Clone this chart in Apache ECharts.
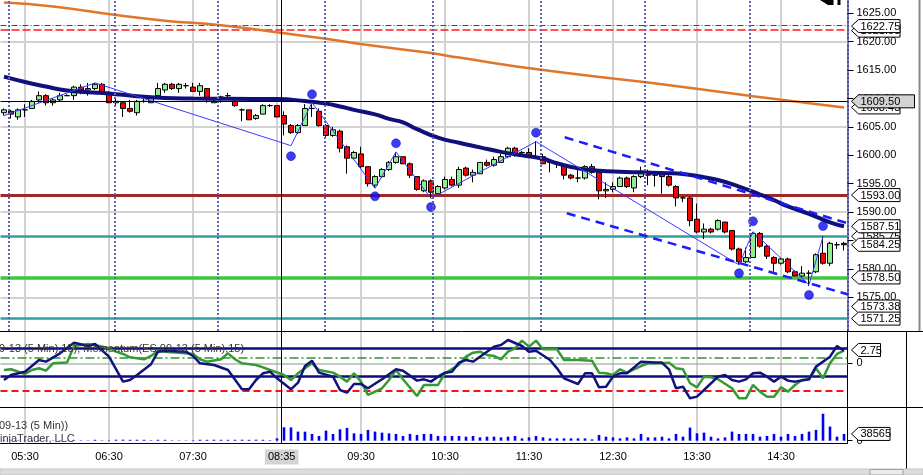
<!DOCTYPE html>
<html>
<head>
<meta charset="utf-8">
<script src="https://cdn.jsdelivr.net/npm/echarts@6/dist/echarts.min.js"></script>
<style>
html, body { margin: 0; padding: 0; background: #fff; }
#chart { width: 923px; height: 475px; }
</style>
</head>
<body>
<div id="chart"></div>
<script>
// 5 minute bars, 05:15 .. 15:15
var firstBar = 5 * 60 + 15;
var barCount = 121;
var times = [];
for (var t = 0; t < barCount; t++) {
    var m = firstBar + t * 5;
    times.push(('0' + Math.floor(m / 60)).slice(-2) + ':' + ('0' + (m % 60)).slice(-2));
}

// [open, close, low, high]
var candles = [
    [1607.5, 1608.0, 1607.0, 1608.25], [1607.75, 1607.25, 1606.5, 1608.0], [1606.75, 1608.0, 1606.25, 1608.25],
    [1608.0, 1608.0, 1606.75, 1609.0], [1608.25, 1609.5, 1608.25, 1609.75], [1609.75, 1610.5, 1609.25, 1611.25],
    [1610.5, 1609.25, 1608.75, 1610.75], [1609.25, 1609.75, 1608.75, 1610.0], [1609.75, 1610.5, 1609.5, 1611.0],
    [1610.5, 1610.5, 1610.5, 1610.75], [1610.5, 1612.0, 1609.75, 1612.25], [1612.0, 1611.5, 1610.75, 1612.5],
    [1611.5, 1611.75, 1610.5, 1612.75], [1611.75, 1612.5, 1611.5, 1612.75], [1612.5, 1611.0, 1610.75, 1612.75],
    [1610.75, 1609.25, 1609.25, 1611.25], [1609.25, 1609.5, 1608.5, 1610.0], [1609.25, 1608.25, 1606.75, 1609.5],
    [1608.25, 1607.75, 1607.5, 1609.75], [1607.5, 1609.5, 1607.0, 1609.75], [1609.5, 1609.5, 1609.25, 1610.5],
    [1609.25, 1610.0, 1609.25, 1610.5], [1610.5, 1611.75, 1610.25, 1612.75], [1611.5, 1612.5, 1611.0, 1612.75],
    [1612.5, 1611.75, 1611.5, 1612.75], [1611.75, 1612.5, 1611.0, 1612.75], [1612.25, 1612.25, 1611.75, 1612.75],
    [1612.0, 1611.25, 1611.25, 1612.75], [1611.25, 1612.25, 1610.5, 1612.75], [1611.75, 1610.0, 1609.25, 1611.75],
    [1609.25, 1609.5, 1609.25, 1610.25], [1610.25, 1610.25, 1609.25, 1610.5], [1610.5, 1610.5, 1609.75, 1611.0],
    [1609.5, 1608.75, 1608.5, 1610.0], [1608.0, 1608.0, 1606.0, 1608.25], [1608.0, 1606.25, 1606.25, 1608.0],
    [1606.5, 1607.0, 1606.25, 1607.25], [1607.25, 1608.75, 1607.25, 1609.0], [1608.75, 1608.75, 1608.5, 1609.0],
    [1608.75, 1606.75, 1606.75, 1608.75], [1607.0, 1605.5, 1603.5, 1607.75], [1605.25, 1604.0, 1603.75, 1605.5],
    [1604.0, 1605.25, 1603.75, 1605.5], [1605.25, 1608.25, 1605.25, 1609.0], [1608.25, 1608.25, 1606.75, 1609.25],
    [1607.75, 1605.25, 1605.0, 1608.25], [1605.25, 1603.5, 1603.25, 1605.5], [1603.5, 1604.5, 1603.25, 1605.0],
    [1604.25, 1601.25, 1600.5, 1604.5], [1601.5, 1599.5, 1596.75, 1601.75], [1599.5, 1600.5, 1599.25, 1600.75],
    [1600.25, 1598.0, 1597.75, 1601.5], [1598.0, 1595.0, 1594.5, 1598.0], [1594.75, 1596.25, 1594.25, 1596.5],
    [1596.25, 1597.5, 1596.0, 1597.75], [1597.5, 1598.75, 1597.25, 1599.0], [1598.75, 1599.75, 1598.5, 1600.5],
    [1599.75, 1598.5, 1598.5, 1599.75], [1598.5, 1596.5, 1596.0, 1598.75], [1596.25, 1594.0, 1593.75, 1596.25],
    [1593.75, 1595.5, 1593.5, 1595.75], [1595.5, 1593.5, 1592.5, 1595.75], [1593.25, 1594.5, 1593.25, 1594.75],
    [1594.25, 1595.75, 1594.0, 1596.25], [1595.75, 1594.75, 1594.5, 1596.25], [1594.75, 1597.5, 1594.25, 1598.0],
    [1597.75, 1596.5, 1596.25, 1598.0], [1596.5, 1597.0, 1595.25, 1597.5], [1596.75, 1598.75, 1596.75, 1598.75],
    [1598.75, 1598.25, 1598.0, 1599.25], [1598.25, 1599.25, 1598.0, 1599.75], [1598.75, 1599.75, 1598.75, 1600.25],
    [1599.75, 1601.25, 1599.5, 1601.5], [1601.25, 1600.0, 1599.75, 1601.5], [1600.5, 1600.5, 1600.25, 1600.75],
    [1600.5, 1599.75, 1599.5, 1601.25], [1599.75, 1599.75, 1599.5, 1602.5], [1599.75, 1598.5, 1598.5, 1600.25],
    [1598.75, 1598.75, 1597.0, 1598.75], [1598.5, 1598.5, 1597.75, 1598.75], [1598.25, 1596.5, 1595.75, 1598.25],
    [1596.5, 1596.0, 1595.75, 1596.75], [1596.0, 1596.0, 1595.25, 1597.75], [1596.0, 1598.0, 1595.75, 1598.25],
    [1598.0, 1597.0, 1596.75, 1598.5], [1597.0, 1593.75, 1592.25, 1597.0], [1593.75, 1594.0, 1592.5, 1595.25],
    [1594.0, 1594.5, 1593.5, 1595.25], [1594.5, 1596.0, 1594.5, 1596.25], [1596.0, 1594.5, 1594.25, 1596.25],
    [1594.25, 1596.25, 1593.5, 1596.5], [1596.25, 1597.0, 1596.0, 1598.0], [1597.0, 1596.5, 1594.75, 1597.5],
    [1596.5, 1596.5, 1594.5, 1596.75], [1596.75, 1596.25, 1593.25, 1597.0], [1596.25, 1594.75, 1594.5, 1596.5],
    [1594.5, 1592.5, 1591.0, 1594.75], [1592.5, 1592.5, 1591.75, 1592.75], [1592.5, 1588.5, 1587.5, 1592.75],
    [1588.75, 1586.5, 1586.25, 1591.5], [1586.5, 1587.0, 1585.25, 1588.0], [1587.0, 1586.5, 1586.25, 1587.25],
    [1587.0, 1588.5, 1586.75, 1588.75], [1588.25, 1586.5, 1586.25, 1588.25], [1586.75, 1583.5, 1583.25, 1586.75],
    [1583.5, 1581.25, 1580.75, 1583.75], [1581.25, 1582.0, 1581.0, 1583.75], [1582.0, 1586.25, 1582.0, 1586.5],
    [1586.25, 1584.0, 1583.75, 1586.5], [1584.0, 1582.25, 1581.75, 1584.25], [1582.0, 1581.0, 1579.5, 1582.25],
    [1581.0, 1581.75, 1580.75, 1582.0], [1581.75, 1579.5, 1579.25, 1582.0], [1579.5, 1578.75, 1578.75, 1579.75],
    [1578.75, 1579.25, 1578.5, 1580.5], [1579.25, 1579.25, 1577.0, 1579.75], [1579.5, 1582.5, 1579.25, 1582.75],
    [1582.75, 1581.0, 1580.75, 1585.75], [1581.0, 1584.5, 1580.5, 1584.75], [1584.25, 1584.25, 1583.5, 1584.75],
    [1584.5, 1584.25, 1583.25, 1584.75]
];

var volumes = [
    1800, 1500, 2100, 1700, 2400, 2600, 1900, 1600, 2200, 1400,
    2500, 2300, 2000, 5200, 2100, 2400, 5600, 5900, 5100, 5400,
    5300, 2600, 5200, 5000, 2300, 2100, 1800, 2600, 5400, 5100,
    5600, 5200, 5000, 5300, 5500, 5100, 5800, 5400, 2900, 13500,
    76500, 75800, 51800, 51500, 38500, 27000, 57500, 38500, 65000, 73000,
    42000, 38500, 61500, 51750, 46000, 42000, 38500, 27000, 38500, 32800,
    38500, 38500, 27000, 27000, 27000, 27000, 23000, 27000, 19000, 23000,
    23000, 19000, 23000, 27000, 13200, 19000, 27000, 19000, 13200, 13200,
    13200, 13200, 13200, 13200, 7500, 32800, 23000, 19000, 13200, 19000,
    13200, 38500, 19000, 19000, 23000, 13200, 38500, 23000, 74750, 42000,
    46000, 23000, 13200, 19000, 51750, 38500, 38500, 38500, 23000, 27000,
    38500, 23000, 38500, 27000, 38500, 51750, 61500, 153500, 80500, 23000,
    38565
];

// slow SMA (orange) and EMA (navy), read at sampled bars
var smaLine = [[0, 1626.9], [7, 1626.2], [16, 1624.7], [23, 1623.7], [31, 1622.9], [40, 1621.5], [46, 1620.5],
    [52, 1619.4], [61, 1618.0], [65, 1617.2], [77, 1615.0], [92, 1612.8], [107, 1610.4], [120, 1608.4]];
var emaLine = [[0, 1613.85], [3, 1612.9], [6, 1612.1], [9, 1611.4], [12, 1611.1], [15, 1610.9], [19, 1610.4],
    [23, 1610.1], [27, 1610.0], [32, 1609.95], [39, 1609.9], [43, 1609.55], [46, 1609.1], [48, 1608.6],
    [50, 1608.0], [53, 1607.2], [55, 1606.4], [57, 1605.8], [59, 1604.6], [62, 1603.1], [65, 1602.2],
    [68, 1601.4], [71, 1600.6], [74, 1600.0], [77, 1599.4], [79, 1598.6], [82, 1597.7], [85, 1597.3],
    [88, 1597.1], [91, 1597.0], [95, 1596.85], [97, 1596.7], [99, 1596.35], [102, 1595.65], [105, 1594.5],
    [108, 1593.1], [110, 1592.1], [112, 1591.0], [115, 1589.7], [118, 1588.2], [120, 1587.5]];

// swing zigzag and swing dots
var zigzag = [[0, 1607.0], [13, 1612.75], [41, 1601.7], [44, 1609.3], [53, 1594.2], [56, 1600.6], [61, 1592.4],
    [76, 1602.4], [105, 1580.7], [107, 1586.55], [115, 1577.2], [117, 1585.7]];
var swingDots = [[41, 1599.85], [44, 1610.74], [53, 1592.78], [56, 1602.11], [61, 1590.9], [76, 1603.98],
    [105, 1579.23], [107, 1588.38], [115, 1575.4], [117, 1587.55]];

// trend channel (bar position, price)
var channelUpper = [[80.1, 1603.17], [120.6, 1588.0]];
var channelLower = [[80.4, 1589.8], [120.6, 1575.5]];

var priceTicks = [1575, 1580, 1585, 1590, 1595, 1600, 1605, 1610, 1615, 1620, 1625];
var priceGrid = [1575, 1590, 1605, 1620];
var hourBars = [3, 15, 27, 39, 51, 63, 75, 87, 99, 111];
var sessionLines = [0.62, 15.86, 30.6, 45.86, 61.2, 76.7, 91.6, 106.6];
var crossBar = 39.67;
var crossPrice = 1609.5;

// oscillator panel
var oscA = [[0, -3.45], [1, -2.42], [3, -1.73], [5, 0.68], [6, 0.34], [8, 2.06], [10, 4.26], [12, 3.57], [13, 3.99],
    [15, 1.37], [17, -3.79], [18, -3.45], [19, -2.42], [21, -0.2], [22, 2.4], [23, 2.61], [26, 2.4], [27, 1.51],
    [28, 0], [30, -0.35], [32, -1.38], [34, -5.38], [35, -5.38], [36, -3.45], [37, -2.07], [38, -1.73], [39, -3.1],
    [41, -5.38], [42, -4.0], [43, -0.56], [44, 0.55], [45, -1.93], [47, -2.76], [48, -5.52], [49, -6.07],
    [50, -4.28], [51, -4.28], [52, -5.17], [54, -3.31], [56, -1.24], [57, -1.52], [59, -3.58], [60, -3.31],
    [61, -3.79], [62, -2.76], [63, -1.93], [64, -1.73], [65, 0.14], [66, 0.68], [67, 0.34], [69, 2.4], [70, 3.44],
    [71, 3.78], [72, 4.81], [74, 3.57], [75, 2.4], [76, 2.61], [78, 0.68], [79, -1.04], [80, -3.1], [82, -4.28],
    [83, -2.07], [84, -2.07], [85, -4.97], [86, -4.83], [87, -2.76], [88, -2.07], [89, -2.07], [91, 0.34],
    [93, 0.14], [94, 0.14], [95, -1.24], [96, -5.17], [97, -4.83], [98, -7.24], [99, -6.89], [100, -5.52],
    [102, -2.76], [103, -2.42], [104, -3.45], [105, -3.79], [106, -3.31], [107, -2.07], [108, -1.93],
    [109, -2.76], [110, -3.79], [111, -2.76], [112, -3.58], [113, -3.79], [115, -3.31], [116, -0.69],
    [118, 1.37], [119, 3.57], [120, 2.61]];
var momentum = [[0, -1.38], [1, -1.24], [3, -2.2], [4, -1.38], [5, -1.03], [6, -1.52], [7, 0], [9, 0.14],
    [10, 3.57], [12, 3.99], [13, 3.78], [15, 3.1], [16, 2.4], [17, 1.93], [18, 1.24], [20, 0.83], [21, 1.51],
    [22, 2.61], [23, 2.4], [25, 2.2], [27, 1.93], [28, 0.83], [29, 0.34], [31, 0.83], [32, 2.06], [33, 0.83],
    [34, 0], [36, -0.35], [37, -0.83], [38, -1.38], [40, -2.42], [41, -3.45], [42, -2.07], [44, 0], [45, -1.38],
    [47, -1.93], [48, -2.76], [49, -3.79], [50, -2.07], [51, -3.79], [52, -6.54], [54, -5.17], [55, -3.45],
    [56, -1.38], [57, -3.31], [59, -6.75], [60, -4.48], [62, -4.48], [63, -2.07], [65, -0.3], [66, 1.37],
    [67, 2.2], [68, 2.4], [69, 1.72], [70, 1.51], [71, 0.83], [72, 2.4], [73, 3.1], [74, 4.68], [75, 3.44],
    [76, 4.68], [77, 2.89], [79, 2.89], [80, 0.68], [82, 0.68], [84, 0.55], [85, -1.93], [86, -2.07],
    [87, -2.42], [88, -1.24], [89, -1.93], [91, -0.56], [92, 0], [94, 0], [95, 0.14], [96, -1.03], [97, -1.24],
    [98, -4.13], [99, -4.97], [100, -2.76], [101, -2.89], [102, -3.31], [104, -5.17], [105, -7.24],
    [106, -7.24], [107, -4.48], [108, -5.86], [109, -6.89], [110, -6.89], [111, -4.97], [112, -5.86],
    [113, -4.48], [114, -3.45], [115, -3.31], [116, -1.03], [117, -3.1], [118, 0], [119, 1.93], [120, 2.61]];
var oscLevels = { upper: 3.1, lower: -2.77, signal: 1.16, zero: 0, floor: -5.66 };

var priceTags = [
    ['1621.95', 1621.95], ['1622.75', 1622.75], ['1608.43', 1608.43], ['1593.00', 1593.0],
    ['1585.75', 1585.75], ['1587.51', 1587.51], ['1584.25', 1584.25], ['1578.50', 1578.5],
    ['1573.38', 1573.38], ['1571.25', 1571.25]
];

var FONT = 'Liberation Sans';
var chart = echarts.init(document.getElementById('chart'));

function vLines(values, color, width, type) {
    return values.map(function (v) {
        return { xAxis: v, lineStyle: { color: color, width: width, type: type } };
    });
}
function hLine(v, color, width, type) {
    return { yAxis: v, lineStyle: { color: color, width: width, type: type } };
}
var showLabel = function (i) { return i % 12 === 3 && i !== 39; };
var markBase = { symbol: 'none', silent: true, animation: false, label: { show: false } };

var option = {
    animation: false,
    backgroundColor: '#fff',
    textStyle: { fontFamily: FONT },
    grid: [
        { left: 0.5, top: 0, width: 847, height: 331 },
        { left: 0.5, top: 331, width: 847, height: 76 },
        { left: 0.5, top: 407, width: 847, height: 36.3 }
    ],
    xAxis: [
        { type: 'category', gridIndex: 0, data: times, show: false },
        { type: 'category', gridIndex: 1, data: times, show: false },
        {
            type: 'category', gridIndex: 2, data: times,
            axisLine: { onZero: false, lineStyle: { color: '#000', width: 1 } },
            axisTick: { interval: showLabel, alignWithLabel: true, length: 4, lineStyle: { color: '#000' } },
            axisLabel: { interval: showLabel, color: '#000', fontSize: 11, fontFamily: FONT, margin: 8 },
            splitLine: { show: false }
        },
        { type: 'value', gridIndex: 0, min: -0.5, max: 120.5, show: false },
        { type: 'value', gridIndex: 1, min: -0.5, max: 120.5, show: false },
        { type: 'value', gridIndex: 2, min: -0.5, max: 120.5, show: false }
    ],
    yAxis: [
        {
            type: 'value', gridIndex: 0, position: 'right', min: 1569.07, max: 1627.34,
            axisLine: { show: true, onZero: false, lineStyle: { color: '#4c4ca8', width: 2, type: [2, 2] } },
            axisTick: { show: true, length: 6, customValues: priceTicks, lineStyle: { color: '#000' } },
            axisLabel: {
                customValues: priceTicks, color: '#000', fontSize: 11, fontFamily: FONT, margin: 9,
                formatter: function (v) { return v.toFixed(2); }
            },
            splitLine: { show: false }
        },
        {
            type: 'value', gridIndex: 1, position: 'right', min: -9.03, max: 6.674,
            axisLine: { show: true, onZero: false, lineStyle: { color: '#000' } },
            axisTick: { show: true, length: 5, customValues: [0], lineStyle: { color: '#000' } },
            axisLabel: { customValues: [0], color: '#000', fontSize: 11, fontFamily: FONT, margin: 9 },
            splitLine: { show: false }
        },
        {
            type: 'value', gridIndex: 2, position: 'right', min: -14800, max: 192000,
            axisLine: { show: true, onZero: false, lineStyle: { color: '#000' } },
            axisTick: { show: true, length: 5, customValues: [0], lineStyle: { color: '#000' } },
            axisLabel: { customValues: [0], color: '#000', fontSize: 11, fontFamily: FONT, margin: 9 },
            splitLine: { show: false }
        }
    ],
    series: [
        // price panel: background grid and levels
        {
            type: 'line', xAxisIndex: 3, yAxisIndex: 0, data: [], silent: true,
            markLine: Object.assign({}, markBase, {
                z: 1,
                data: vLines(hourBars, '#d2d2d2', 2, 'solid').concat(priceGrid.map(function (v) {
                    return hLine(v, '#d2d2d2', 2, 'solid');
                })).concat([
                    hLine(1622.9, '#b02020', 1, [6, 2, 1, 2]),
                    hLine(1622.15, '#ff1a1a', 1.5, [8, 3]),
                    hLine(1593.0, '#a02828', 3, 'solid'),
                    hLine(1585.75, '#2f9f9f', 2.5, 'solid'),
                    hLine(1578.5, '#3cc83c', 3.5, 'solid'),
                    hLine(1571.25, '#2f9f9f', 2.5, 'solid')
                ])
            })
        },
        {
            name: 'SMA', type: 'line', xAxisIndex: 0, yAxisIndex: 0, data: smaLine, symbol: 'none',
            smooth: true, z: 3, lineStyle: { color: '#e0762a', width: 2.5 }
        },
        {
            name: 'ES', type: 'candlestick', xAxisIndex: 0, yAxisIndex: 0, data: candles, barWidth: 5, z: 3,
            itemStyle: {
                color: '#90ee90', color0: '#ff0000', borderColor: '#000', borderColor0: '#000',
                borderColorDoji: '#000', borderWidth: 1
            }
        },
        {
            name: 'EMA', type: 'line', xAxisIndex: 0, yAxisIndex: 0, data: emaLine, symbol: 'none',
            smooth: true, z: 4, lineStyle: { color: '#10107c', width: 4 }
        },
        {
            name: 'Swing', type: 'line', xAxisIndex: 0, yAxisIndex: 0, data: zigzag, symbol: 'none',
            z: 5, lineStyle: { color: '#3b3bff', width: 1 }
        },
        {
            name: 'Channel', type: 'line', xAxisIndex: 3, yAxisIndex: 0, data: channelUpper, symbol: 'none',
            z: 5, lineStyle: { color: '#1c1cff', width: 2.5, type: [9, 6] }
        },
        {
            name: 'Channel2', type: 'line', xAxisIndex: 3, yAxisIndex: 0, data: channelLower, symbol: 'none',
            z: 5, lineStyle: { color: '#1c1cff', width: 2.5, type: [9, 6] },
            markLine: Object.assign({}, markBase, {
                z: 8,
                data: vLines(sessionLines, '#6262b2', 2, [2, 2]).concat([
                    { xAxis: crossBar, lineStyle: { color: '#000', width: 1, type: 'solid' } },
                    hLine(crossPrice, '#000', 1, 'solid')
                ])
            })
        },
        {
            name: 'Dots', type: 'scatter', xAxisIndex: 0, yAxisIndex: 0, data: swingDots, symbolSize: 9, z: 6,
            itemStyle: { color: '#0a0af0', borderColor: '#0000a0', borderWidth: 0.5 }
        },
        // oscillator panel
        {
            type: 'line', xAxisIndex: 4, yAxisIndex: 1, data: [], silent: true,
            markLine: Object.assign({}, markBase, {
                z: 1,
                data: vLines(hourBars, '#d2d2d2', 2, 'solid').concat([
                    hLine(oscLevels.zero, '#b4b4b4', 1.5, 'solid'),
                    hLine(oscLevels.signal, '#2a962a', 1.5, [9, 3, 2, 3]),
                    hLine(oscLevels.floor, '#ff1010', 2, [7, 4]),
                    hLine(oscLevels.upper, '#0c0c80', 2.5, 'solid'),
                    hLine(oscLevels.lower, '#0c0c80', 2.5, 'solid'),
                    { xAxis: crossBar, lineStyle: { color: '#000', width: 1, type: 'solid' } }
                ])
            })
        },
        {
            name: 'Momentum', type: 'line', xAxisIndex: 1, yAxisIndex: 1, data: momentum, symbol: 'none',
            z: 3, lineStyle: { color: '#349a34', width: 2.5 }
        },
        {
            name: 'Osc', type: 'line', xAxisIndex: 1, yAxisIndex: 1, data: oscA, symbol: 'none',
            z: 4, lineStyle: { color: '#12127e', width: 2.5 }
        },
        // volume panel
        {
            type: 'line', xAxisIndex: 5, yAxisIndex: 2, data: [], silent: true,
            markLine: Object.assign({}, markBase, {
                z: 1,
                data: vLines(hourBars, '#d2d2d2', 2, 'solid').concat([
                    { xAxis: crossBar, lineStyle: { color: '#000', width: 1, type: 'solid' } }
                ])
            })
        },
        {
            name: 'Volume', type: 'bar', xAxisIndex: 2, yAxisIndex: 2, data: volumes, barWidth: 2.6, z: 3,
            itemStyle: { color: '#0000ff' }
        }
    ]
};
chart.setOption(option);

// price tags and chart furniture placed through the axes
function py(v) { return chart.convertToPixel({ yAxisIndex: 0 }, v); }
function tag(y, text, w, fill, z) {
    var x0 = 851.5, h = 6.5;
    return [
        {
            type: 'polygon', z: z, silent: true,
            shape: { points: [[x0, y], [x0 + 7, y - h], [x0 + w, y - h], [x0 + w, y + h], [x0 + 7, y + h]] },
            style: { fill: fill, stroke: '#000', lineWidth: 1 }
        },
        {
            type: 'text', z: z + 1, silent: true, x: x0 + 9, y: y + 0.5,
            style: { text: text, font: '11px ' + FONT, fill: '#000', verticalAlign: 'middle' }
        }
    ];
}
var g = [];
var z = 100;
priceTags.forEach(function (p) { g = g.concat(tag(py(p[1]), p[0], 48.5, '#fff', z)); z += 2; });
g = g.concat(tag(py(crossPrice), crossPrice.toFixed(2), 63, '#d4d4d4', z)); z += 2;
g = g.concat(tag(chart.convertToPixel({ yAxisIndex: 1 }, 2.75), '2.75', 29, '#fff', z)); z += 2;
g = g.concat(tag(chart.convertToPixel({ yAxisIndex: 2 }, volumes[volumes.length - 1]),
    String(volumes[volumes.length - 1]), 38.5, '#fff', z));

var cx = chart.convertToPixel({ xAxisIndex: 5 }, crossBar);
g.push({
    type: 'text', z: 120, silent: true, x: cx, y: 457,
    style: {
        text: times[40], font: '11px ' + FONT, fill: '#000', align: 'center', verticalAlign: 'middle',
        backgroundColor: '#d4d4d4', padding: [2, 3]
    }
});
g.push({ type: 'text', z: 50, silent: true, x: -1, y: 349,
    style: { text: '9-13 (5 Min),15), Momentum(ES 09-13 (5 Min),15)', font: '11px ' + FONT, fill: '#333', verticalAlign: 'middle' } });
g.push({ type: 'text', z: 50, silent: true, x: -1, y: 425.5,
    style: { text: '09-13 (5 Min))', font: '11px ' + FONT, fill: '#333', verticalAlign: 'middle' } });
g.push({ type: 'text', z: 50, silent: true, x: -8, y: 438.5,
    style: { text: 'NinjaTrader, LLC', font: '11px ' + FONT, fill: '#333', verticalAlign: 'middle' } });
// panel separators and window edges
g.push({ type: 'line', z: 60, silent: true, shape: { x1: 0, y1: 331.5, x2: 923, y2: 331.5 }, style: { stroke: '#000', lineWidth: 1 } });
g.push({ type: 'line', z: 60, silent: true, shape: { x1: 0, y1: 407.5, x2: 923, y2: 407.5 }, style: { stroke: '#000', lineWidth: 1 } });
g.push({ type: 'line', z: 60, silent: true, shape: { x1: 919.5, y1: 0, x2: 919.5, y2: 331 }, style: { stroke: '#8a8a8a', lineWidth: 2 } });
g.push({ type: 'line', z: 60, silent: true, shape: { x1: 906.5, y1: 331, x2: 906.5, y2: 469 }, style: { stroke: '#000', lineWidth: 1 } });
g.push({ type: 'rect', z: 60, silent: true, shape: { x: 0, y: 469, width: 923, height: 6 }, style: { fill: '#dcdcdc', stroke: '#c4c4c4' } });
g.push({ type: 'rect', z: 61, silent: true, shape: { x: 870, y: 469.5, width: 33, height: 5.5 }, style: { fill: '#ececec', stroke: '#a0a0a0' } });
// toolbar glyph at the top right
g.push({ type: 'polygon', z: 60, silent: true, shape: { points: [[820, 0], [833.5, 0], [833.5, 5], [828, 5]] }, style: { fill: '#000' } });
g.push({ type: 'rect', z: 60, silent: true, shape: { x: 837.5, y: 0, width: 3, height: 5 }, style: { fill: '#000' } });

chart.setOption({ graphic: g });
</script>
</body>
</html>
